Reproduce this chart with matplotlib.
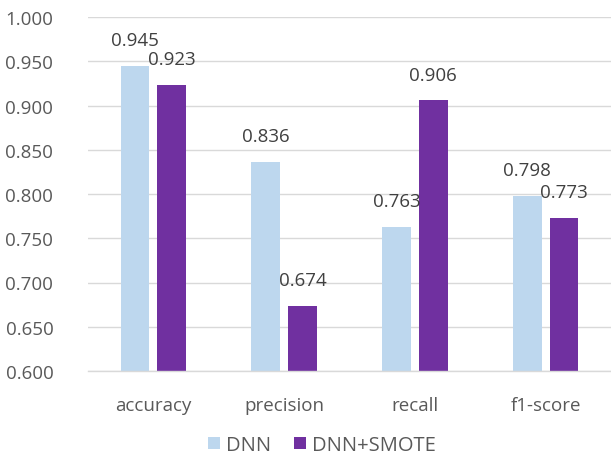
import matplotlib
matplotlib.use("Agg")
import matplotlib.pyplot as plt
import numpy as np
from matplotlib.ticker import FormatStrFormatter

plt.rcParams['font.family'] = ['Open Sans', 'DejaVu Sans']

categories = ["accuracy", "precision", "recall", "f1-score"]
dnn = [0.945, 0.836, 0.763, 0.798]
dnn_smote = [0.923, 0.674, 0.906, 0.773]
series_names = ["DNN", "DNN+SMOTE"]
colors = ["#BDD7EE", "#7030A0"]

fig = plt.figure(figsize=(6.11, 4.56), dpi=100)
ax = fig.add_axes([88 / 611, 84 / 456, (611 - 88) / 611, (372 - 18) / 456])

x = np.arange(len(categories))
width = 0.22
offset = 0.14

bars1 = ax.bar(x - offset, dnn, width, color=colors[0], label=series_names[0], zorder=3)
bars2 = ax.bar(x + offset, dnn_smote, width, color=colors[1], label=series_names[1], zorder=3)

for bars, vals in ((bars1, dnn), (bars2, dnn_smote)):
    for b, v in zip(bars, vals):
        ax.annotate(f"{v:.3f}", (b.get_x() + b.get_width() / 2, v),
                    xytext=(0, 12), textcoords="offset points",
                    ha="center", va="bottom", fontsize=13.5, color="#404040", zorder=4)

ax.set_xlim(-0.5, len(categories) - 0.5)
ax.set_ylim(0.6, 1.0)
ax.set_yticks(np.arange(0.6, 1.0001, 0.05))
ax.yaxis.set_major_formatter(FormatStrFormatter("%.3f"))
ax.set_xticks(x)
ax.set_xticklabels(categories)

ax.grid(axis="y", color="#D9D9D9", linewidth=1, zorder=0)
ax.tick_params(axis="both", length=0, labelsize=13.5, colors="#595959")
ax.tick_params(axis="x", pad=18)
ax.tick_params(axis="y", pad=25)
for s in ("top", "right", "left"):
    ax.spines[s].set_visible(False)
ax.spines["bottom"].set_color("#D9D9D9")
ax.spines["bottom"].set_linewidth(1)
ax.spines["bottom"].set_zorder(5)

fig.legend(loc="center", bbox_to_anchor=(322 / 611, 1 - 446 / 456), ncol=2,
           frameon=False, fontsize=14.5, handlelength=0.6, handleheight=0.6,
           handletextpad=0.3, columnspacing=1.1, labelcolor="#595959")

fig.savefig("out.png", dpi=100)
